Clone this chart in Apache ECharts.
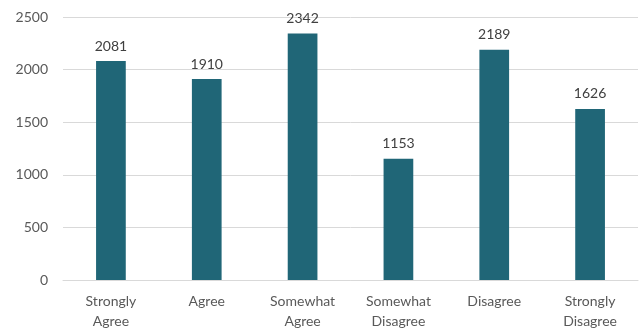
<!DOCTYPE html>
<html><head><meta charset="utf-8">
<script src="https://cdn.jsdelivr.net/npm/echarts@6/dist/echarts.min.js"></script>
<style>html,body{margin:0;padding:0;background:#fff}#c{width:642px;height:333px}</style>
</head><body><div id="c"></div>
<script>
const categories = ["Strongly\nAgree", "Agree", "Somewhat\nAgree", "Somewhat\nDisagree", "Disagree", "Strongly\nDisagree"];
const values = [2081, 1910, 2342, 1153, 2189, 1626];
const yTicks = {min: 0, max: 2500, interval: 500};
const chart = echarts.init(document.getElementById('c'), null, {renderer: 'canvas'});
const font = 'Lato, "Open Sans", sans-serif';
chart.setOption({
  animation: false,
  grid: {left: 63, right: 4, top: 17, bottom: 53, containLabel: false},
  xAxis: {
    type: 'category', data: categories,
    axisLine: {lineStyle: {color: '#d9d9d9', width: 1}},
    axisTick: {show: false},
    axisLabel: {color: '#595959', fontSize: 14, fontFamily: font, margin: 11, lineHeight: 20, interval: 0}
  },
  yAxis: {
    type: 'value', min: yTicks.min, max: yTicks.max, interval: yTicks.interval,
    axisLine: {show: false}, axisTick: {show: false},
    splitLine: {lineStyle: {color: '#d9d9d9', width: 1}},
    axisLabel: {color: '#595959', fontSize: 14, fontFamily: font, margin: 15, formatter: v => String(v)}
  },
  series: [{
    type: 'bar', data: values, barWidth: '31%',
    itemStyle: {color: '#206677'},
    label: {show: true, position: 'top', color: '#404040', fontSize: 14, fontFamily: font, distance: 8}
  }]
});
</script></body></html>
